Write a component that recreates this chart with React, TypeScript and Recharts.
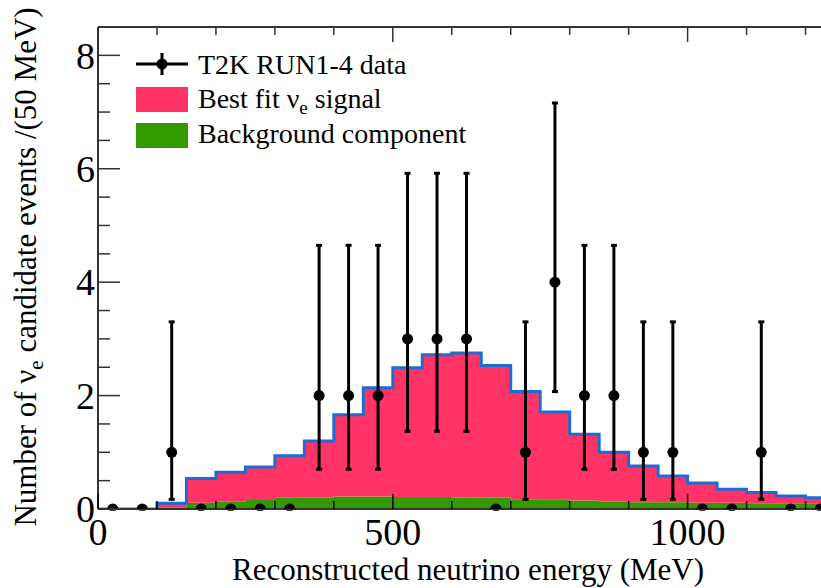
import {
  Area,
  ComposedChart,
  ErrorBar,
  Scatter,
  XAxis,
  YAxis,
} from "recharts";

// bin edges (MeV), 50 MeV bins
const edges = [
  0, 50, 100, 150, 200, 250, 300, 350, 400, 450, 500, 550, 600, 650, 700, 750,
  800, 850, 900, 950, 1000, 1050, 1100, 1150, 1200, 1250,
];

// stacked components per bin
const background = [
  0, 0, 0.03, 0.11, 0.13, 0.16, 0.2, 0.2, 0.22, 0.22, 0.21, 0.21, 0.2, 0.2,
  0.17, 0.17, 0.15, 0.13, 0.12, 0.12, 0.11, 0.11, 0.1, 0.1, 0.1,
];
const signal = [
  0, 0, 0.07, 0.43, 0.52, 0.58, 0.74, 1.0, 1.44, 1.92, 2.28, 2.51, 2.55, 2.33,
  1.9, 1.54, 1.17, 0.87, 0.64, 0.46, 0.35, 0.24, 0.19, 0.13, 0.1,
];

// data points at bin centres
const centers = [
  25, 75, 125, 175, 225, 275, 325, 375, 425, 475, 525, 575, 625, 675, 725, 775,
  825, 875, 925, 975, 1025, 1075, 1125, 1175, 1225,
];
const counts = [
  0, 0, 1, 0, 0, 0, 0, 2, 2, 2, 3, 3, 3, 0, 1, 4, 2, 2, 1, 1, 0, 0, 1, 0, 0,
];
const errLow = [
  0, 0, 0.83, 0, 0, 0, 0, 1.3, 1.3, 1.3, 1.63, 1.63, 1.63, 0, 0.83, 1.93, 1.3,
  1.3, 0.83, 0.83, 0, 0, 0.83, 0, 0,
];
const errHigh = [
  0, 0, 2.3, 0, 0, 0, 0, 2.65, 2.65, 2.65, 2.92, 2.92, 2.92, 0, 2.3, 3.16, 2.65,
  2.65, 2.3, 2.3, 0, 0, 2.3, 0, 0,
];

const xTicks = [0, 100, 200, 300, 400, 500, 600, 700, 800, 900, 1000, 1100, 1200];
const yTicks = [0, 0.5, 1, 1.5, 2, 2.5, 3, 3.5, 4, 4.5, 5, 5.5, 6, 6.5, 7, 7.5, 8];

const legendLabels = ["T2K RUN1-4 data", "Best fit ν", "Background component"];

const PINK = "#ff3366";
const GREEN = "#339900";
const BLUE = "#1c6cd3";
const FRAME = "#333";
const FONT = "Liberation Serif";

// plot frame top (chart margin top + top axis height)
const PLOT_TOP = 27;

const histData = edges.map((e, i) => {
  const k = Math.min(i, signal.length - 1);
  return { e, bg: background[k], sig: signal[k] };
});

const pointData = centers.map((e, i) => ({
  e,
  n: counts[i],
  err: [errLow[i], errHigh[i]],
}));

const LeftTick = ({ x, y, payload }: any) => {
  const v = payload.value;
  const major = v % 2 === 0;
  return (
    <g>
      <line x1={x} x2={x + (major ? 22 : 12)} y1={y} y2={y} stroke={FRAME} strokeWidth={1.5} />
      {major && (
        <text x={x - 3} y={y} dy="0.35em" textAnchor="end" fontSize={38} fontFamily={FONT} fill="#000">
          {v}
        </text>
      )}
    </g>
  );
};

const RightTick = ({ x, y, payload }: any) => {
  const major = payload.value % 2 === 0;
  return <line x1={x} x2={x - (major ? 22 : 12)} y1={y} y2={y} stroke={FRAME} strokeWidth={1.5} />;
};

// bottom ticks also mirror a short tick on the top frame
const BottomTick = ({ x, y, payload }: any) => {
  const v = payload.value;
  const major = v % 500 === 0;
  const len = major ? 15 : 8;
  return (
    <g>
      <line x1={x} x2={x} y1={y} y2={y - len} stroke="#000" strokeWidth={1.5} />
      <line x1={x} x2={x} y1={PLOT_TOP} y2={PLOT_TOP + len} stroke={FRAME} strokeWidth={1.5} />
      {major && (
        <text x={x} y={y + 36} textAnchor="middle" fontSize={38} fontFamily={FONT} fill="#000">
          {v}
        </text>
      )}
    </g>
  );
};

const XTitle = () => (
  <text x={468} y={580} textAnchor="middle" fontSize={31} fontFamily={FONT} fill="#000">
    Reconstructed neutrino energy (MeV)
  </text>
);

const YTitle = () => (
  <text
    transform="translate(36,267) rotate(-90)"
    textAnchor="middle"
    fontSize={31}
    fontFamily={FONT}
    fill="#000"
  >
    Number of ν
    <tspan fontSize={21} dy={7}>e</tspan>
    <tspan dy={-7}> candidate events /(50 MeV)</tspan>
  </text>
);

function LegendBox() {
  return (
    <svg
      width={560}
      height={160}
      style={{ position: "absolute", left: 0, top: 0, pointerEvents: "none" }}
    >
      <line x1={136} x2={188} y1={64} y2={64} stroke="#000" strokeWidth={3} />
      <line x1={162} x2={162} y1={53} y2={75} stroke="#000" strokeWidth={3} />
      <circle cx={162} cy={64} r={5.5} fill="#000" />
      <rect x={136} y={87} width={52} height={25} fill={PINK} />
      <rect x={136} y={123} width={52} height={25} fill={GREEN} />
      <g fontSize={28} fontFamily={FONT} fill="#000">
        <text x={198} y={74}>{legendLabels[0]}</text>
        <text x={198} y={108}>
          {legendLabels[1]}
          <tspan fontSize={19} dy={6}>e</tspan>
          <tspan dy={-6}> signal</tspan>
        </text>
        <text x={198} y={143}>{legendLabels[2]}</text>
      </g>
    </svg>
  );
}

export default function App() {
  return (
    <div
      style={{
        position: "fixed",
        left: 0,
        top: 0,
        width: 821,
        height: 588,
        overflow: "hidden",
        background: "#fff",
        fontFamily: FONT,
      }}
    >
      <ComposedChart
        width={860}
        height={588}
        data={histData}
        margin={{ top: 26, right: 25, bottom: 0, left: 0 }}
      >
        <XAxis
          dataKey="e"
          type="number"
          domain={[0, 1250]}
          ticks={xTicks}
          interval={0}
          height={79}
          tickSize={0}
          tickMargin={0}
          tickLine={false}
          tick={<BottomTick />}
          axisLine={{ stroke: FRAME, strokeWidth: 2 }}
          label={<XTitle />}
          allowDataOverflow
        />
        <XAxis
          xAxisId="top"
          orientation="top"
          type="number"
          domain={[0, 1250]}
          height={1}
          tick={false}
          tickLine={false}
          axisLine={{ stroke: FRAME, strokeWidth: 2 }}
          allowDataOverflow
        />
        <YAxis
          type="number"
          domain={[0, 8.5]}
          ticks={yTicks}
          interval={0}
          width={98}
          tickSize={0}
          tickMargin={0}
          tickLine={false}
          tick={<LeftTick />}
          axisLine={{ stroke: FRAME, strokeWidth: 2 }}
          label={<YTitle />}
          allowDataOverflow
        />
        <YAxis
          yAxisId="right"
          orientation="right"
          type="number"
          domain={[0, 8.5]}
          ticks={yTicks}
          interval={0}
          width={0}
          tickSize={0}
          tickMargin={0}
          tickLine={false}
          tick={<RightTick />}
          axisLine={{ stroke: FRAME, strokeWidth: 2 }}
          allowDataOverflow
        />
        <Area
          type="stepAfter"
          dataKey="bg"
          stackId="h"
          fill={GREEN}
          fillOpacity={1}
          stroke="none"
          isAnimationActive={false}
        />
        <Area
          type="stepAfter"
          dataKey="sig"
          stackId="h"
          fill={PINK}
          fillOpacity={1}
          stroke={BLUE}
          strokeWidth={3}
          isAnimationActive={false}
        />
        <Scatter
          data={pointData}
          dataKey="n"
          isAnimationActive={false}
          shape={(p: any) => <circle cx={p.cx} cy={p.cy} r={5.5} fill="#000" />}
        >
          <ErrorBar dataKey="err" direction="y" width={3} stroke="#000" strokeWidth={3} />
        </Scatter>
      </ComposedChart>
      <LegendBox />
    </div>
  );
}
